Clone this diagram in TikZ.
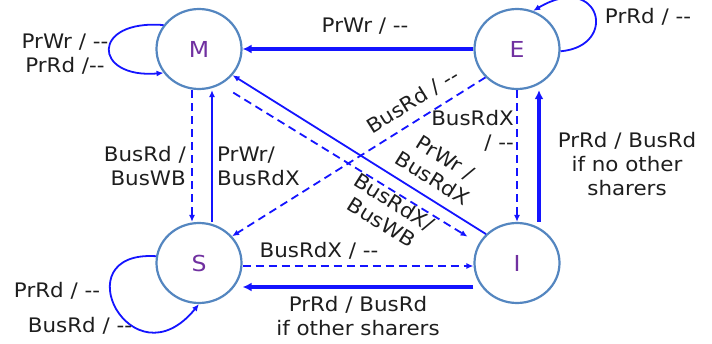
\documentclass[tikz,border=0pt]{standalone}
\usepackage{fontspec}
\setmainfont[FakeStretch=1.07]{DejaVu Sans}
\usetikzlibrary{shapes,arrows.meta}
\definecolor{edgeblue}{RGB}{20,20,255}
\definecolor{ringblue}{RGB}{84,134,192}
\definecolor{statepurple}{RGB}{112,48,160}
\definecolor{labelgray}{RGB}{30,30,30}
\tikzset{
  state/.style={ellipse, draw=ringblue, line width=2.2pt, fill=white, minimum width=85pt, minimum height=80pt, inner sep=0pt, text=statepurple, font=\fontsize{22}{26}\selectfont},
  lbl/.style={text=labelgray, font=\fontsize{20}{24}\selectfont, inner sep=0pt, align=center},
  bus/.style={edgeblue, line width=1.8pt, dash pattern=on 8pt off 5pt, -{Latex[length=7pt,width=6pt]}},
  proc/.style={edgeblue, line width=1.8pt, -{Latex[length=7pt,width=6pt]}},
  procbold/.style={edgeblue, line width=3.6pt, -{Latex[length=9pt,width=9pt]}}
}
\newcommand{\nop}{-{}-}

\begin{document}
\begin{tikzpicture}[x=1pt,y=-1pt]
\useasboundingbox (0,0) rectangle (712,343);
\node[state] (M) at (199,49) {M};
\node[state] (E) at (517,49) {E};
\node[state] (S) at (199,263) {S};
\node[state] (I) at (517,263) {I};

\draw[procbold] (E.west) -- (M.east);
\draw[proc] (M.146) .. controls +(-73,-6) and +(-71,6) .. (M.214);
\draw[proc] (E.-3) .. controls +(59,-5) and +(67,-40) .. (E.67);
\draw[proc] (S.171) .. controls +(-95,-6) and +(-67,82) .. (S.270);
\draw[bus] ([xshift=-7pt]M.south) -- ([xshift=-7pt]S.north);
\draw[proc] ([xshift=13pt]S.north) -- ([xshift=13pt]M.south);
\draw[bus] (E.south) -- (I.north);
\draw[procbold] ([xshift=22pt]I.north) -- ([xshift=22pt]E.south);
\draw[bus] ([yshift=-3pt]S.east) -- ([yshift=-3pt]I.west);
\draw[procbold] ([yshift=-24pt]I.west) -- ([yshift=-24pt]S.east);
\draw[proc] (I.137) -- (M.-38);
\draw[bus, shorten <=15pt, shorten >=13pt] (M.-59) -- (I.153);
\draw[bus] (E.222) -- (S.39);

\node[lbl] (lEM) at (365,26) {PrWr / \nop};
\node[lbl] (lMM) at (65,54) {PrWr / \nop\\PrRd /\nop};
\node[lbl] (lEE) at (648,17) {PrRd / \nop};
\node[lbl, anchor=east, align=right] (lMS) at (186,166) {BusRd /\\BusWB};
\node[lbl, anchor=west, align=left] (lSM) at (217,166) {PrWr/\\BusRdX};
\node[lbl, anchor=east, align=right] (lEI) at (514,131) {BusRdX\\/ \nop};
\node[lbl] (lIE) at (627,164) {PrRd / BusRd\\if no other\\sharers};
\node[lbl] (lSI) at (319,251) {BusRdX / \nop};
\node[lbl] (lIS) at (358,316) {PrRd / BusRd\\if other sharers};
\node[lbl] (lSSa) at (57,291) {PrRd / \nop};
\node[lbl] (lSSb) at (80,326) {BusRd / \nop};
\node[lbl, rotate=32] (lES) at (413,101) {BusRd / \nop};
\node[lbl, rotate=-32] (lIM) at (439,168) {PrWr /\\BusRdX};
\node[lbl, rotate=-32] (lMI) at (388,212) {BusRdX/\\BusWB};
\end{tikzpicture}
\end{document}
